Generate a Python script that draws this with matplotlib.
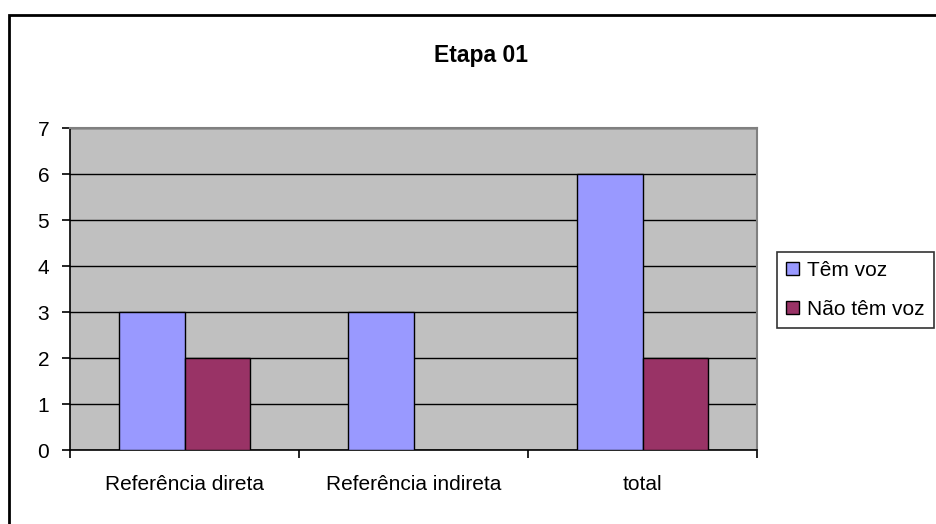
import matplotlib.pyplot as plt
from matplotlib.patches import Rectangle
import numpy as np

plt.rcParams['font.family'] = ['Liberation Sans', 'DejaVu Sans']

categories = ['Referência direta', 'Referência indireta', 'total']
series_names = ['Têm voz', 'Não têm voz']
tem_voz = [3, 3, 6]
nao_tem_voz = [2, 0, 2]
yticks = [0, 1, 2, 3, 4, 5, 6, 7]

colors = ['#9999FF', '#993366']

fig = plt.figure(figsize=(9.37, 5.24), dpi=100)
ax = fig.add_axes([0.0747, 0.1412, 0.7333, 0.6145])
ax.set_facecolor('#C0C0C0')

x = np.arange(len(categories))
w = 1 / 3.5
ax.bar(x - w / 2, tem_voz, w, color=colors[0], edgecolor='black', lw=1, label=series_names[0], zorder=3)
ax.bar(x + w / 2, nao_tem_voz, w, color=colors[1], edgecolor='black', lw=1, label=series_names[1], zorder=3)

ax.set_xlim(-0.5, len(categories) - 0.5)
ax.set_ylim(0, 7)
ax.set_yticks(yticks)
ax.yaxis.grid(True, color='black', lw=1, zorder=1)
ax.set_axisbelow(True)

fs = 15
ax.set_xticks(x)
ax.set_xticklabels(categories, fontsize=fs)
ax.tick_params(axis='x', length=0, pad=18)
ax.set_xticks(np.arange(len(categories) + 1) - 0.5, minor=True)
ax.tick_params(axis='x', which='minor', length=6, width=1.2, direction='out')
ax.tick_params(axis='y', length=6, width=1.2, direction='out', labelsize=fs, pad=9)

for s in ['top', 'right']:
    ax.spines[s].set_color('#808080')
    ax.spines[s].set_linewidth(1.5)
for s in ['left', 'bottom']:
    ax.spines[s].set_color('black')
    ax.spines[s].set_linewidth(1.2)

fig.text(0.513, 0.895, 'Etapa 01', ha='center', va='center', fontsize=16.5, fontweight='bold')

leg = fig.legend(loc='center left', bbox_to_anchor=(0.829, 0.447), fontsize=fs,
                 frameon=True, fancybox=False, edgecolor='black', handlelength=0.6,
                 handleheight=0.6, handletextpad=0.4, borderpad=0.45, labelspacing=0.95,
                 borderaxespad=0)
leg.get_frame().set_linewidth(1.2)

fig.patches.append(Rectangle((9 / 937, -0.1), 1.1, 1 - 15 / 524 + 0.1, transform=fig.transFigure,
                             fill=False, edgecolor='black', lw=2))

fig.savefig('out.png', dpi=100)
